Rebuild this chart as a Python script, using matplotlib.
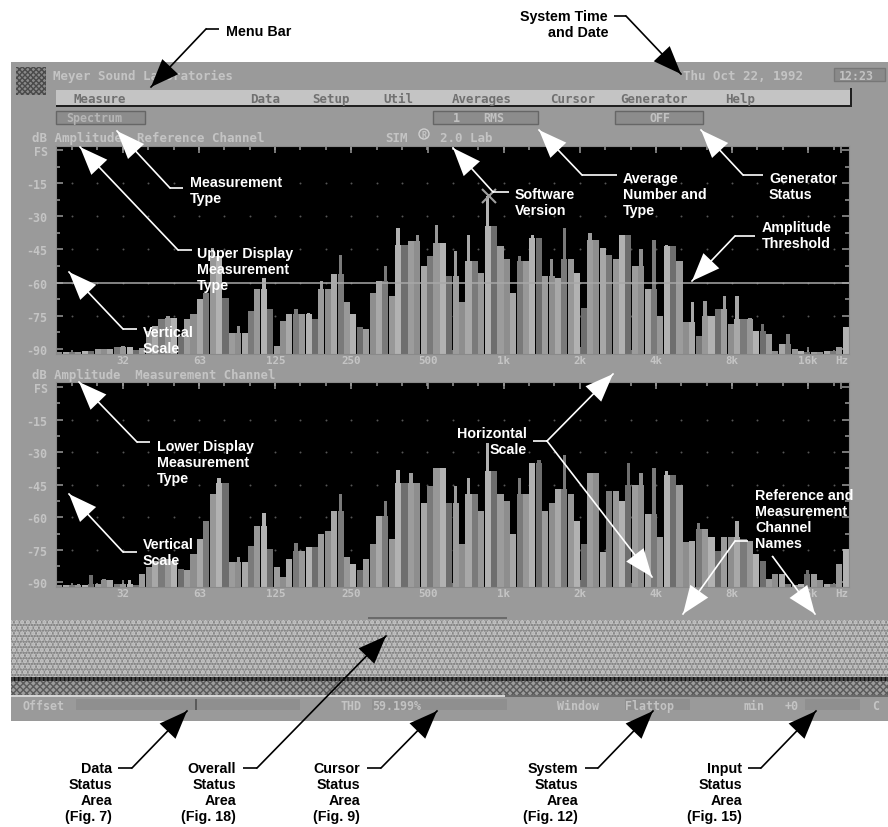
import numpy as np
import matplotlib
matplotlib.use("Agg")
import matplotlib.pyplot as plt
from matplotlib.patches import Rectangle, Polygon, Circle

# ------------------ data ------------------
upper_db = [-91.5,-91.5,-91.5,-91.5,-91,-91,-90,-90,-90,-89,
 -88.6,-89,-90.4,-89.8,-81.8,-79.6,-76.6,-75,-75.8,-84,
 -76.6,-74.3,-67.6,-64.6,-44.3,-48,-66.8,-82.6,-79.6,-82.6,
 -72.8,-63,-57.8,-72,-88.6,-77.3,-74.3,-72,-74.3,-73.6,
 -76.6,-59.3,-63,-56.3,-47.3,-69,-74.3,-80.3,-81,-64.6,
 -59.3,-52.6,-66,-35.3,-42.8,-41.3,-38.3,-52.6,-48,-33.8,
 -42,-57,-45.8,-69,-38.3,-50.3,-55.6,-21,-34.5,-43.5,
 -49.5,-64.6,-48,-50.3,-38.3,-39.8,-57,-49.5,-57.8,-35.3,
 -49.5,-55.6,-71.3,-37.5,-40.5,-44.3,-47.3,-49.5,-38.3,-38.3,
 -52.6,-45,-63,-40.5,-75,-42.8,-43.5,-50.3,-78,-69,
 -84,-68.3,-75,-72,-66,-78.8,-66,-76.6,-75.8,-81.8,
 -78.8,-83.3,-90.8,-87.8,-83.3,-90,-91,-91.5,-91.5,-91.5,
 -90.8,-91,-89,-80.3]
lower_db = [-91.3,-91.3,-91.3,-90.6,-91.3,-86.8,-90.6,-88.3,-89,-90.6,
 -90.6,-89,-91.3,-86.3,-83,-80,-79,-79,-80,-83.7,
 -84.5,-76.9,-70,-61.6,-49.2,-41.9,-44,-80.7,-78.4,-80.7,
 -73,-64,-57.8,-74.6,-83,-87.5,-79,-72,-75.6,-73.8,
 -73.5,-67.7,-66.2,-57,-49.5,-78.4,-81.4,-84.5,-79,-72.3,
 -59.4,-52.5,-70,-38,-44,-39.6,-44,-53.3,-45.7,-37.3,
 -37.3,-53.3,-45.7,-72.3,-41.9,-49.5,-57,-25.9,-38.8,-49.5,
 -52.5,-67.7,-41.9,-49.5,-35,-33.5,-57,-53.3,-47.2,-31.2,
 -49.5,-61.6,-72.3,-39.6,-39.6,-76,-48,-48,-52.5,-35,
 -45,-39.6,-58.6,-37.3,-69.3,-38.8,-40.3,-45,-71.5,-70.8,
 -62.4,-65.4,-69.3,-75.3,-69.3,-69.3,-61.6,-70,-70.8,-76.9,
 -80,-88.3,-86,-86,-90.6,-91.3,-90.6,-84.5,-86,-89,
 -90.6,-90.6,-81.4,-74.6]
freq_labels = ["32","63","125","250","500","1k","2k","4k","8k","16k","Hz"]
db_ticks = [0,-15,-30,-45,-60,-75,-90]
db_labels = ["FS","-15","-30","-45","-60","-75","-90"]
threshold_db = -60
cursor_db = -21

W, H = 888, 828
GREY = "#9a9a9a"
SCR = "#cfcfcf"
MONO = "DejaVu Sans Mono"
LABEL = "Liberation Sans"
fig = plt.figure(figsize=(W/100, H/100), dpi=100, facecolor="white")

def ax_px(l, t, r, b, **kw):
    return fig.add_axes([l/W, 1-b/H, (r-l)/W, (b-t)/H], **kw)

# ------------------ screen background ------------------
bg = ax_px(0, 0, W, H, zorder=0)
bg.set_xlim(0, W); bg.set_ylim(H, 0); bg.axis("off")
def rect(x0, y0, x1, y1, fc, ec="none", lw=0, hatch=None, z=1, a=None):
    p = Rectangle((x0, y0), x1-x0, y1-y0, facecolor=fc, edgecolor=ec, linewidth=lw, hatch=hatch, zorder=z, alpha=a)
    bg.add_patch(p); return p
def stext(x, y, s, color=SCR, size=9.0, ha="left", z=5, a=.8):
    bg.text(x, y+4, s, color=color, fontsize=size, family=MONO, fontweight="bold",
            ha=ha, va="baseline", zorder=z, alpha=a)

rect(11, 63, W, 722, GREY)
rect(16, 68, 46, 96, "#8a8a8a", ec="#4a4a4a", hatch="xxxxxx", z=2)
stext(53, 76, "Meyer Sound Laboratories")
stext(683, 76, "Thu Oct 22, 1992")
rect(834, 69, 885, 82, "#8a8a8a", ec="#777777", lw=1, z=2)
stext(839, 76, "12:23", size=8.4)

rect(56, 91, 852, 107, "#c4c4c4", z=2)
rect(56, 106, 852, 108, "#202020", z=3)
rect(850, 89, 852, 108, "#202020", z=3)
menu_x = [73, 250, 312, 383, 452, 550, 620, 725]
menu_items = ["Measure","Data","Setup","Util","Averages","Cursor","Generator","Help"]
for x, s in zip(menu_x, menu_items):
    stext(x, 99, s, color="#707070", a=1)

for x0, x1 in [(56,145),(433,538),(615,703)]:
    rect(x0, 112, x1, 125, "#8c8c8c", ec="#666666", lw=1, z=2)
stext(66, 118, "Spectrum", color="#c0c0c0", size=8.4)
stext(453, 118, "1", size=8.4); stext(483, 118, "RMS", size=8.4)
stext(660, 118, "OFF", size=8.4, ha="center")

stext(32, 138, "dB Amplitude  Reference Channel")
stext(385, 138, "SIM"); stext(440, 138, "2.0 Lab")
bg.add_patch(Circle((424, 135), 5, facecolor="none", edgecolor=SCR, lw=1, zorder=5))
stext(424, 134.5, "R", size=6, ha="center")
stext(32, 375, "dB Amplitude  Measurement Channel", size=8.8)

# noise band (texture only, no data in it)
rect(11, 621, W, 678, "#ababab", ec="#787878", hatch="......", z=2)
rect(11, 621, W, 678, "none", ec="#d2d2d2", hatch="ooo", z=2, a=.6)
rect(11, 678, W, 682, "#444444", ec="#111111", hatch="||||", z=2)
rect(11, 682, W, 696, "#9c9c9c", ec="#5a5a5a", hatch="xxxxx", z=2)
rect(11, 696, 505, 698, "#d5d5d5", z=3)
rect(505, 696, W, 698, "#6a6a6a", z=3)
rect(368, 618, 507, 620, "#6a6a6a", z=3)

# status row
for x0, x1 in [(76,300),(372,507),(625,690),(805,860)]:
    rect(x0, 700, x1, 711, "#8f8f8f", z=2)
rect(195, 700, 197, 711, "#5a5a5a", z=3)
status_x = [22, 340, 372, 557, 625, 743, 785, 872]
status_items = ["Offset","THD","59.199%","Window","Flattop","min","+0","C"]
for x, s in zip(status_x, status_items):
    stext(x, 706, s, size=8.4)

# ------------------ spectra ------------------
def spectrum(top, bottom, values, lo, hi, threshold=None, cursor=None):
    ax = ax_px(56, top, 849, bottom, zorder=2, facecolor="black")
    v = np.array(values, float)
    x = np.arange(len(v)) + .5
    left = np.r_[v[0], v[:-1]]; right = np.r_[v[1:], v[-1]]
    body = np.minimum(v, np.maximum(left, right))   # local peaks stand as thin spikes on the mass
    tones = ["#8e8e8e", "#a8a8a8", "#7a7a7a", "#989898", "#b2b2b2", "#6e6e6e", "#9c9c9c"]
    colors = [tones[i % len(tones)] for i in range(len(v))]
    ax.bar(x, v - lo, bottom=lo, width=.55, color=colors, linewidth=0, zorder=2)
    ax.bar(x, body - lo, bottom=lo, width=.95, color=colors, linewidth=0, zorder=2)
    ax.set_xlim(0, len(v)); ax.set_ylim(lo, hi)
    octave = 10.5 + 11.9*np.arange(len(freq_labels)-1)
    ax.set_xticks(list(octave) + [122.8], freq_labels)
    ax.set_xticks(np.arange(2.5, 123, 3.97), minor=True)
    ax.set_yticks(db_ticks, db_labels)
    ax.set_yticks(np.arange(-82.5, 0, 15), minor=True)
    for which, ln in [("major", 5), ("minor", 3)]:
        ax.tick_params(axis="both", which=which, direction="in", color="#9a9a9a", length=ln, width=1.1,
                       top=True, right=True)
    ax.tick_params(axis="y", which="major", labelcolor=SCR, labelsize=8.4, pad=6)
    ax.tick_params(axis="x", which="major", labelcolor=SCR, labelsize=7.8, pad=0.5)
    for lab in ax.get_xticklabels() + ax.get_yticklabels():
        lab.set_family(MONO); lab.set_fontweight("bold"); lab.set_alpha(.8)
    for s in ax.spines.values():
        s.set_color("#8a8a8a"); s.set_linewidth(.8)
    gx, gy = np.meshgrid(np.arange(2.5, 123, 3.97), np.array(db_ticks[1:-1]))
    ax.scatter(gx.ravel(), gy.ravel(), s=2, color="#555555", linewidths=0, zorder=1)
    if threshold is not None:
        ax.axhline(threshold, color="#a8a8a8", lw=1.1, zorder=3)
    if cursor is not None:
        ax.plot(cursor[0], cursor[1], marker="x", ms=10, mew=1.5, color="#a0a0a0", zorder=4)
    return ax

peak = int(np.argmax(upper_db))
spectrum(147, 355, upper_db, -92.3, 1.8, threshold_db, (peak + .7, cursor_db))
spectrum(383, 588, lower_db, -92.1, 2.3)

# ------------------ annotation layer ------------------
ov = ax_px(0, 0, W, H, zorder=5)
ov.set_xlim(0, W); ov.set_ylim(H, 0); ov.axis("off"); ov.patch.set_alpha(0)

def head(tip, frm, color):
    tip = np.array(tip, float); frm = np.array(frm, float)
    d = (tip-frm)/np.hypot(*(tip-frm)); n = np.array([-d[1], d[0]])
    base = tip - 28*d
    ov.add_patch(Polygon([tip, base+11*n, base-11*n], closed=True, fc=color, ec="none", zorder=7))

def arrow(path, tips, color):
    xs, ys = zip(*path)
    ov.plot(xs, ys, color=color, lw=1.2, solid_capstyle="butt", solid_joinstyle="miter", zorder=6)
    for t in tips:
        ov.plot([path[-1][0], t[0]], [path[-1][1], t[1]], color=color, lw=1.2, zorder=6)
        head(t, path[-1], color)

def label(x, y, lines, color, ha="left"):
    for k, s in enumerate(lines):
        ov.text(x, y+16*k, s, color=color, fontsize=10.3, family=LABEL, fontweight="bold",
                ha=ha, va="center", zorder=8)

K, Wh = "black", "white"
label(226, 32, ["Menu Bar"], K); arrow([(219,30),(206,30)], [(151,88)], K)
label(608, 17, ["System Time","and Date"], K, "right"); arrow([(614,17),(626,17)], [(681,75)], K)

label(190, 183, ["Measurement","Type"], Wh); arrow([(183,189),(170,189)], [(117,132)], Wh)
label(197, 254, ["Upper Display","Measurement","Type"], Wh); arrow([(192,251),(178,251)], [(80,148)], Wh)
label(143, 333, ["Vertical","Scale"], Wh); arrow([(137,330),(123,330)], [(69,273)], Wh)
label(515, 195, ["Software","Version"], Wh); arrow([(509,193),(493,193)], [(453,149)], Wh)
label(623, 179, ["Average","Number and","Type"], Wh); arrow([(617,176),(582,176)], [(539,131)], Wh)
label(769, 179, ["Generator","Status"], Wh); arrow([(763,176),(743,176)], [(701,131)], Wh)
label(762, 228, ["Amplitude","Threshold"], Wh); arrow([(755,237),(735,237)], [(692,282)], Wh)
label(157, 447, ["Lower Display","Measurement","Type"], Wh); arrow([(150,443),(137,443)], [(79,383)], Wh)
label(143, 545, ["Vertical","Scale"], Wh); arrow([(137,553),(123,553)], [(69,495)], Wh)
label(527, 434, ["Horizontal","Scale"], Wh, "right"); arrow([(533,442),(547,442)], [(613,375),(652,578)], Wh)
label(755, 496, ["Reference and","Measurement","Channel","Names"], Wh)
arrow([(748,542),(735,542)], [(683,615)], Wh)
arrow([(772,557),(773,558)], [(815,615)], Wh)

label(112, 769, ["Data","Status","Area","(Fig. 7)"], K, "right"); arrow([(118,769),(132,769)], [(187,712)], K)
label(236, 769, ["Overall","Status","Area","(Fig. 18)"], K, "right"); arrow([(243,769),(257,769)], [(386,637)], K)
label(360, 769, ["Cursor","Status","Area","(Fig. 9)"], K, "right"); arrow([(367,769),(381,769)], [(437,712)], K)
label(578, 769, ["System","Status","Area","(Fig. 12)"], K, "right"); arrow([(585,769),(598,769)], [(653,712)], K)
label(742, 769, ["Input","Status","Area","(Fig. 15)"], K, "right"); arrow([(748,769),(761,769)], [(816,712)], K)

fig.savefig("out.png", dpi=100, facecolor="white")
